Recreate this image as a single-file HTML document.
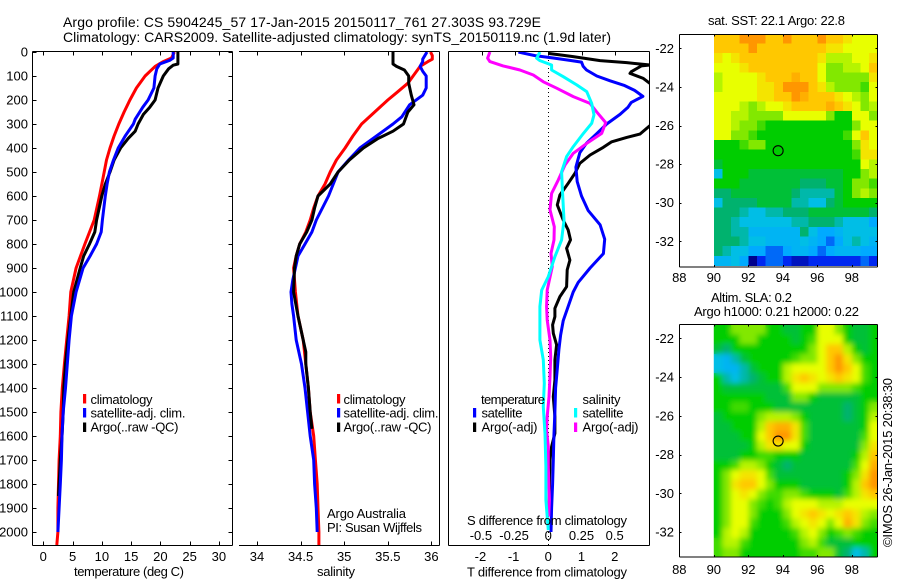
<!DOCTYPE html>
<html>
<head>
<meta charset="utf-8">
<title>Argo profile</title>
<style>
html,body{margin:0;padding:0;background:#fff}
svg{display:block}
text{font-family:"Liberation Sans",sans-serif;font-size:13px;fill:#000}
</style>
</head>
<body>
<svg id="chart" xmlns="http://www.w3.org/2000/svg" width="900" height="580" viewBox="0 0 900 580">
<defs>
<clipPath id="clipT"><rect x="33" y="52" width="199" height="493"/></clipPath>
<clipPath id="clipS"><rect x="240" y="52" width="199" height="493"/></clipPath>
<clipPath id="clipD"><rect x="449" y="52" width="200" height="493"/></clipPath>
<clipPath id="clipM1"><rect x="713.5" y="34" width="164" height="233"/></clipPath>
<clipPath id="clipM2"><rect x="713.5" y="324" width="164" height="233"/></clipPath>
<filter id="soft" x="-5%" y="-5%" width="110%" height="110%"><feGaussianBlur stdDeviation="2.6"/></filter>
</defs>
<rect width="900" height="580" fill="#fff"/>
<text x="63" y="27" style="font-size:14px" textLength="478">Argo profile: CS 5904245_57 17-Jan-2015 20150117_761 27.303S 93.729E</text>
<text x="63" y="42" style="font-size:14px" textLength="548">Climatology: CARS2009. Satellite-adjusted climatology: synTS_20150119.nc (1.9d later)</text>

<g id="mapSst" clip-path="url(#clipM1)"></g>
<g id="mapSla" clip-path="url(#clipM2)"></g>
<g id="axes"></g>

<line x1="548.5" x2="548.5" y1="52" y2="545" stroke="#000" stroke-width="1" stroke-dasharray="1 3"/>
<g id="lines"></g>

<g>
<rect x="83" y="394" width="3.2" height="9.5" fill="#f00"/>
<text x="90.5" y="404" textLength="62">climatology</text>
<rect x="83" y="408" width="3.2" height="9.5" fill="#00f"/>
<text x="90.5" y="417.5" textLength="95">satellite-adj. clim.</text>
<rect x="83" y="422.5" width="3.2" height="9.5" fill="#000"/>
<text x="90.5" y="431.5" textLength="88">Argo(..raw -QC)</text>
</g>
<g>
<rect x="337" y="394" width="3.2" height="9.5" fill="#f00"/>
<text x="343.5" y="404" textLength="62">climatology</text>
<rect x="337" y="408" width="3.2" height="9.5" fill="#00f"/>
<text x="343.5" y="417.5" textLength="95">satellite-adj. clim.</text>
<rect x="337" y="422.5" width="3.2" height="9.5" fill="#000"/>
<text x="343.5" y="431.5" textLength="88">Argo(..raw -QC)</text>
</g>
<text x="327" y="518" textLength="79">Argo Australia</text>
<text x="327" y="532" textLength="95">PI: Susan Wijffels</text>

<g>
<text x="481" y="404" textLength="64">temperature</text>
<rect x="473" y="408" width="3.2" height="9.5" fill="#00f"/>
<text x="481.5" y="417.5" textLength="41">satellite</text>
<rect x="473" y="422.5" width="3.2" height="9.5" fill="#000"/>
<text x="481.5" y="431.5" textLength="56">Argo(-adj)</text>
<text x="582.5" y="404" textLength="38">salinity</text>
<rect x="574" y="408" width="3.2" height="9.5" fill="#0ff"/>
<text x="582.5" y="417.5" textLength="41">satellite</text>
<rect x="574" y="422.5" width="3.2" height="9.5" fill="#f0f"/>
<text x="582.5" y="431.5" textLength="56">Argo(-adj)</text>
</g>

<text x="467" y="525" textLength="160">S difference from climatology</text>
<text x="74" y="576" textLength="110">temperature (deg C)</text>
<text x="317" y="576" textLength="38">salinity</text>
<text x="467" y="576.5" textLength="160">T difference from climatology</text>

<text x="708" y="25" textLength="137">sat. SST: 22.1 Argo: 22.8</text>
<text x="711" y="302" textLength="81">Altim. SLA: 0.2</text>
<text x="694" y="316" textLength="165">Argo h1000: 0.21 h2000: 0.22</text>
<text transform="translate(892 547) rotate(-90)" x="0" y="0" textLength="169">©IMOS 26-Jan-2015 20:38:30</text>

<script>
/* ---------- tick labels ---------- */
const depthTicks = [0,100,200,300,400,500,600,700,800,900,1000,1100,1200,1300,1400,1500,1600,1700,1800,1900,2000];
const tempTicks = [0,5,10,15,20,25,30];
const salTicks = [34,34.5,35,35.5,36];
const tDiffTicks = [-2,-1,0,1,2];
const sDiffTicks = [-0.5,-0.25,0,0.25,0.5];
const lonTicks = [88,90,92,94,96,98];
const latTicks = [-22,-24,-26,-28,-30,-32];

/* ---------- temperature panel ---------- */
const tempClimDepth = [0,25,40,60,100,150,200,250,300,350,400,450,500,600,700,800,900,1000,1100,1200,1300,1400,1500,1600,1700,1800,1900,2000,2054];
const tempClim = [22.4,21.9,20.5,19.1,17.4,15.9,14.8,13.8,12.9,12.1,11.4,10.8,10.4,9.6,8.7,7.1,5.6,4.7,4.4,4.0,3.6,3.25,3.0,2.9,2.7,2.6,2.5,2.5,2.3];
const tempArgoDepth = [0,50,55,70,100,150,200,230,260,300,330,360,400,450,500,550,600,700,750,800,850,900,1000,1100,1200,1300,1400,1500,1600,1700,1800,1850];
const tempArgo = [23,23,22.2,21.4,20.5,19.6,19.1,18.2,17.1,16.2,15.7,14.5,13.2,12.1,11.4,10.6,10,9.1,8.8,7.9,6.9,6.3,5.2,4.7,4.2,3.8,3.5,3.4,3.2,2.9,2.7,2.6];
const tempSatDepth = [0,25,35,50,70,100,150,200,230,280,300,350,400,450,500,550,600,700,750,800,850,900,950,1000,1100,1200,1300,1400,1500,1600,1700,1800,1900,2000];
const tempSat = [22.2,22.2,21.6,19.9,19.4,19.1,18.9,17.9,17,15.7,15.4,14,12.8,12,11.3,10.9,10.6,10.1,9.9,9.1,8,6.8,6.2,5.6,4.8,4.4,4.1,3.8,3.4,3.2,3.1,2.9,2.7,2.5];

/* ---------- salinity panel ---------- */
const salClimDepth = [0,15,30,40,60,100,130,170,200,250,300,350,400,450,500,550,600,650,700,750,800,850,900,1000,1100,1200,1300,1400,1500,1600,1700,1800,1900,2000,2054];
const salClim = [35.99,36.01,36.01,35.96,35.87,35.79,35.73,35.6,35.5,35.35,35.2,35.1,35.01,34.91,34.84,34.78,34.7,34.65,34.61,34.56,34.49,34.45,34.42,34.44,34.47,34.53,34.56,34.59,34.61,34.65,34.67,34.69,34.7,34.71,34.71];
const salArgoDepth = [0,50,60,75,100,130,180,220,250,300,330,360,400,450,500,550,600,650,700,750,800,850,900,1000,1100,1200,1250,1300,1400,1500,1570];
const salArgo = [35.56,35.56,35.6,35.69,35.74,35.74,35.77,35.8,35.73,35.68,35.56,35.39,35.22,35.06,34.93,34.84,34.7,34.66,34.63,34.57,34.49,34.45,34.43,34.42,34.47,34.53,34.56,34.56,34.59,34.61,34.63];
const salSatDepth = [0,30,40,60,80,100,150,180,220,270,300,350,400,450,500,600,700,750,800,850,900,950,1000,1050,1100,1200,1300,1400,1500,1600,1700,1800,1900,2000];
const salSat = [35.95,35.9,35.9,35.87,35.9,35.94,35.94,35.9,35.75,35.66,35.56,35.37,35.18,35.05,34.93,34.82,34.68,34.63,34.55,34.47,34.44,34.41,34.39,34.4,34.42,34.45,34.51,34.55,34.58,34.61,34.65,34.66,34.68,34.69];

/* ---------- difference panel ---------- */
const dTSatDepth = [0,5,15,25,35,42,60,75,100,120,140,160,185,210,230,260,300,340,380,420,480,540,600,660,720,780,840,900,960,1000,1060,1120,1180,1240,1320,1400,1500,1600,1700,1800,1900,2000];
const dTSat = [-0.9,-0.75,-0.4,0.15,0.65,1,1.05,1.15,1.46,1.86,2.3,2.6,2.85,2.5,2.4,2.16,1.76,1.46,1.15,0.95,0.83,0.87,1,1.2,1.56,1.7,1.66,1.26,0.9,0.75,0.6,0.45,0.37,0.32,0.27,0.22,0.2,0.17,0.15,0.13,0.1,0.08];
const dTArgoDepth = [6,12,19,36,44,54,58,82,89,110,130,200,308,342,356,374,397,429,464,506,547,596,637,700,742,783,818,867,908,978,1019,1068,1103,1137,1172,1220,1283,1367,1436,1519,1589,1644,1700,1867,1900];
const dTArgo = [0,0.35,0.75,1.56,2.36,3.05,2.8,2.5,2.46,2.86,3.05,4,3.05,2.76,2.36,1.91,1.66,1.26,0.95,0.8,0.6,0.35,0.27,0.45,0.6,0.67,0.55,0.65,0.57,0.55,0.35,0.2,0.2,0.13,0.15,0.25,0.2,0.2,0.15,0.2,0.2,0.1,0.05,0.03,0.03];
const dSSatDepth = [0,26,36,54,75,103,137,165,214,262,297,339,394,436,499,575,700,783,853,936,992,1061,1200,1283,1380,1478,1589,1728,1867,1992];
const dSSat = [-0.063,-0.088,-0.063,0.025,0.025,0.113,0.214,0.289,0.327,0.344,0.327,0.264,0.188,0.138,0.1,0.106,0.118,0.1,0.05,0,-0.05,-0.063,-0.063,-0.038,-0.03,-0.038,-0.025,-0.018,-0.018,0];
const dSArgoDepth = [0,26,40,58,75,96,124,151,186,214,249,294,339,381,422,471,533,589,658,728,783,839,894,992,1061,1117,1200,1269,1353,1436,1519,1575,1644,1728,1867,1936];
const dSArgo = [-0.44,-0.457,-0.44,-0.34,-0.214,-0.113,-0.038,0.063,0.188,0.314,0.364,0.432,0.402,0.289,0.188,0.126,0.075,0.025,0.013,0.045,0.043,0.02,0.03,-0.008,-0.013,-0.008,0.013,0.018,0.013,0.005,-0.008,-0.013,0,0,0.008,0.003];

/* ---------- map cells: colour level per 0.5 degree cell, north to south ---------- */
const sstRows = [
[8,8,8,9,9,9,8,8,9,8,8,8,9,8,8,7.5,7,7,7],
[8,8,8,8,9,8,8,8,8,8,8,8,8,7.5,7.5,7,7,7,7],
[7.5,7,7.5,8,8,8,8,8,8,8,8,8,7.5,6.5,6.5,6.5,7,7,7.5],
[7,7,7,7.5,8,8,8,8,8,8,8,8,7,6,6,6.5,6.5,7,8],
[6.5,7,7,7,7,7.5,8,8,8,8.5,8,8,7,6,6,6,6,6,7.5],
[6.5,7,7,7,7,7.5,7.5,8,9,9,9,8,7.5,6.5,6,6,6,5.5,7],
[7,7,7,7,7,7.5,7.5,8,8,9,8.5,8,8,8,7.5,7,6.5,6,7],
[7,7,7,6.5,6,6.5,7,7,7.5,8,8,8,8,8.5,8,7.5,7,6,6.5],
[7,7,6.5,6.5,6,6,6,6,7,7,7,7,7,6,5,5,7,7,6],
[7,7,6.5,6,6,5.5,5,5,5,5,5,5,5,5,5,5,6,7,7],
[7,7,6,6,5.5,5,5,5,5,5,5,5,5,5,5,5.5,7,8,7],
[5,5,5,5.5,6,6,5,5,5,5,5,5,5,5,5,5,6,7.5,7],
[5,5,5,5,5,5,5,5,5,5,5,5,5,5,5,5,5.5,7.5,7.5],
[4.5,5,5,5,5,5,5,5,5,5,5,5,5,5,5,5,5,7,6.5],
[3,5,5,5,4.5,4.5,4.5,4.5,4.5,4.5,4.5,4.5,4.5,4.5,4.5,5,5,6,6.5],
[5,5,5,4.5,4.5,4.5,4.5,4.5,4.5,4.5,4,4,4,4.5,4.5,5,6,6,5.5],
[4,4,4.5,4.5,4.5,4.5,4.5,4.5,4.5,4,3.5,3.5,3.5,3.5,4.5,5,6,6.5,6],
[3,4,4,4,4,4.5,4.5,4.5,4.5,3.5,3.5,3,3,4,4.5,5,5,5,5],
[4,4,4,3.5,3,3,3.5,3.5,4,4,4,4.5,4.5,4.5,4.5,4.5,4.5,4.5,4],
[4,4,3.5,3,3,3,3,3,3,3.5,3.5,4,4,4,3.5,3,3,3,2],
[4,4,3.5,3.5,2.5,2.5,2.5,2.5,2.5,2.5,4,3,2,2,2.5,3,3,3,3],
[4,4,4,3.5,3,3,2.5,2.5,2.5,2.5,3,2.5,2,1.5,2,3,3.5,3,2.5],
[4,3.5,3,3,2,2,1.5,1.5,2,2.5,2.5,2,1.5,2,2.5,2.5,2.5,2,2],
[2.5,2.5,3,2,0,1,1.5,1.5,1,0.5,0.5,1,1,1,1,1,1,1.5,1]
];
const slaRows = [
[5,5,6,6,6,6,5,5,4.5,4.5,5,5,7,7,6,5,4.5,4.5,5],
[5,5,5,6,6,5,5,5,5,4.5,5,5.5,7,7,7,5,4.5,4.5,5],
[4.5,4,5,5,5,5,5,5,5,5,5,6,7,8,8,6.5,5,4.5,5],
[3,2.5,3.5,4.5,5,5,5,5,5,5.5,6,6,7,8,9,7.5,6,5,5],
[3,2.5,2.5,3.5,4.5,5,5,5,6.5,7,7,7,7,8,9,8,7,5.5,5],
[5,3.5,3,3.5,4,4.5,5,5,6.5,7.5,8,7.5,7,7.5,8,7.5,7,5.5,5],
[5,4.5,4.5,4.5,4.5,4.5,4.5,4.5,5.5,7,7,7,6,6,6,6,5.5,5,5],
[5,5,5,5,5,5,4.5,4.5,4.5,6,6,5,4.5,4.5,4.5,4.5,4.5,5,5],
[5,5,5.5,5.5,5,5,5,4.5,4.5,4.5,4.5,4.5,4.5,4.5,4.5,4,4.5,5,6],
[4.5,5,5,5,5,6,6.5,6.5,6.5,6,5,4.5,4.5,4.5,4.5,4,4.5,5,6.5],
[4.5,4.5,5,5,5,6.5,8,8.5,8.5,7.5,5.5,4.5,4.5,4.5,4.5,4.5,4.5,5,7],
[4.5,4.5,4.5,5,5,7,8,9,9,7.5,5.5,4.5,4.5,4.5,4.5,4.5,4.5,5.5,7],
[4.5,4.5,4.5,4.5,5,6.5,7.5,7.5,7,7,5,4.5,4.5,4.5,4.5,4.5,4.5,6,7.5],
[4.5,4.5,4.5,5,5,5.5,5.5,5,5,5,4.5,4.5,4.5,4.5,4.5,4.5,5,6.5,8],
[5,5,5.5,6.5,6.5,6,5,4.5,4,4.5,4.5,4.5,4.5,4.5,4.5,4.5,5.5,7,8.5],
[5,6,7,7.5,7.5,7,5.5,4.5,4.5,4.5,4.5,4.5,4.5,4.5,4.5,5,6,7.5,9],
[5,6,7.5,8,8,7,6,5,5,5,4.5,4.5,4.5,4.5,4.5,5,6.5,8,9],
[5,6,7,7.5,7,6,5.5,5.5,6,6,5.5,5,5,5,4.5,5.5,6.5,7.5,8],
[5,6,7,7,6,5.5,5,5.5,6.5,7,7,7,6.5,6.5,6.5,7,7,7,7],
[5,6,7,7,6,5,5,5,6,7,7.5,8,7.5,7,7.5,8,7.5,6.5,6],
[5,6,7,7,5.5,5,5,5,5.5,6.5,7,7.5,7,6,7,8.5,7.5,6,5.5],
[5,6.5,7,6.5,5,5,5,5,5,5.5,6.5,7,6,5,5.5,6,5.5,5,5],
[5.5,6.5,6.5,5.5,5,5,5,5,5,5,6,6.5,5.5,4.5,4.5,4.5,5,5,5],
[5.5,6,6,5,5,5,5,5,5,5,5.5,5.5,6,6,4.5,4,3,3.5,5]
];
const floatLon = 93.729;
const floatLat = -27.303;

/* ---------- axis functions ---------- */
const NS = 'http://www.w3.org/2000/svg';
const yOf = d => 52 + 0.24 * d;
const xT = v => 43.3 + 5.853 * v;
const xS = v => 257 + 87.2 * (v - 34);
const xDT = v => 548.3 + 33.2 * v;
const xDS = v => 548.3 + 132.8 * v;
const xLon = v => 679.3 + 17.25 * (v - 88);
const yLat1 = v => 48.4 + 19.29 * (-22 - v);
const yLat2 = v => 338.3 + 19.37 * (-22 - v);

function make(tag, attrs, parent) {
  const el = document.createElementNS(NS, tag);
  for (const k in attrs) el.setAttribute(k, attrs[k]);
  parent.appendChild(el);
  return el;
}
const axes = document.getElementById('axes');
const linesG = document.getElementById('lines');

function seg(x1, y1, x2, y2, name) {
  const el = make('line', {x1: x1, y1: y1, x2: x2, y2: y2, stroke: '#000', 'stroke-width': 1, 'shape-rendering': 'crispEdges'}, axes);
  
  
}
function label(x, y, str, anchor, name) {
  const el = make('text', {x: x, y: y, 'text-anchor': anchor}, axes);
  el.textContent = str;
  
  
}

/* frames */
seg(32.5, 51.5, 232.5, 51.5, 'temperature-axis-top');
seg(32.5, 545.5, 232.5, 545.5, 'temperature-axis-bottom');
seg(32.5, 51.5, 32.5, 545.5, 'temperature-axis-left');
seg(232.5, 51.5, 232.5, 545.5, 'temperature-axis-right');
seg(239, 51.5, 439.5, 51.5, 'salinity-axis-top');
seg(239, 545.5, 439.5, 545.5, 'salinity-axis-bottom');
seg(439.5, 51.5, 439.5, 545.5, 'salinity-axis-right');
seg(448.5, 51.5, 649.5, 51.5, 'difference-axis-top');
seg(448.5, 545.5, 649.5, 545.5, 'difference-axis-bottom');
seg(448.5, 51.5, 448.5, 545.5, 'difference-axis-left');
seg(649.5, 51.5, 649.5, 545.5, 'difference-axis-right');

/* depth ticks */
depthTicks.forEach(d => {
  const y = Math.round(yOf(d)) + 0.5;
  seg(32.5, y, 36.5, y, 'depth-tick');
  seg(228.5, y, 232.5, y, 'depth-tick');
  label(28, yOf(d) + 4.5, String(d), 'end', 'depth-tick-label');
});
/* temperature ticks */
tempTicks.forEach(v => {
  const x = Math.round(xT(v)) + 0.5;
  seg(x, 51.5, x, 55.5, 'temperature-tick');
  seg(x, 541.5, x, 545.5, 'temperature-tick');
  label(xT(v), 561, String(v), 'middle', 'temperature-tick-label');
});
/* salinity ticks */
salTicks.forEach(v => {
  const x = Math.round(xS(v)) + 0.5;
  seg(x, 51.5, x, 55.5, 'salinity-tick');
  seg(x, 541.5, x, 545.5, 'salinity-tick');
  label(xS(v), 561, String(v), 'middle', 'salinity-tick-label');
});
/* difference ticks */
tDiffTicks.forEach(v => {
  const x = Math.round(xDT(v)) + 0.5;
  seg(x, 51.5, x, 55.5, 't-difference-tick');
  label(xDT(v) - (v < 0 ? 1.5 : 0), 561, String(v), 'middle', 't-difference-tick-label');
});
sDiffTicks.forEach(v => {
  label(xDS(v) - (v < 0 ? 1 : 0), 540, String(v), 'middle', 's-difference-tick-label');
});

/* profile lines */
function drawLine(depths, vals, xf, color, clip, name) {
  const pts = depths.map((d, i) => xf(vals[i]).toFixed(1) + ',' + yOf(d).toFixed(1)).join(' ');
  const el = make('polyline', {points: pts, fill: 'none', stroke: color, 'stroke-width': 3, 'stroke-linejoin': 'round', 'clip-path': 'url(#' + clip + ')'}, linesG);
  
  
}
drawLine(tempClimDepth, tempClim, xT, '#f00', 'clipT', 'temperature-climatology-line');
drawLine(tempArgoDepth, tempArgo, xT, '#000', 'clipT', 'temperature-argo-line');
drawLine(tempSatDepth, tempSat, xT, '#00f', 'clipT', 'temperature-satellite-line');
drawLine(salClimDepth, salClim, xS, '#f00', 'clipS', 'salinity-climatology-line');
drawLine(salSatDepth, salSat, xS, '#00f', 'clipS', 'salinity-satellite-line');
drawLine(salArgoDepth, salArgo, xS, '#000', 'clipS', 'salinity-argo-line');
drawLine(dTArgoDepth, dTArgo, xDT, '#000', 'clipD', 't-difference-argo-line');
drawLine(dTSatDepth, dTSat, xDT, '#00f', 'clipD', 't-difference-satellite-line');
drawLine(dSArgoDepth, dSArgo, xDS, '#f0f', 'clipD', 's-difference-argo-line');
drawLine(dSSatDepth, dSSat, xDS, '#0ff', 'clipD', 's-difference-satellite-line');

/* colour scale */
const scaleLevels = [
  [0,0,140],[0,40,240],[0,170,255],[0,190,230],[0,178,110],
  [0,205,0],[130,232,0],[232,255,0],[255,200,0],[255,150,0]
];
function colorOf(v) {
  const i = Math.min(8, Math.floor(v));
  const f = v - i;
  const a = scaleLevels[i], b = scaleLevels[i + 1];
  return 'rgb(' + a.map((c, k) => Math.round(c + (b[k] - c) * f)).join(',') + ')';
}
function drawMap(parent, rows, latTop, yLat, name) {
  rows.forEach((row, r) => {
    row.forEach((v, c) => {
      const x0 = xLon(90 + 0.5 * c), x1 = xLon(90 + 0.5 * (c + 1));
      const y0 = yLat(latTop - 0.5 * r), y1 = yLat(latTop - 0.5 * (r + 1));
      const el = make('rect', {x: x0, y: y0, width: x1 - x0 + 0.4, height: y1 - y0 + 0.8, fill: colorOf(v), 'shape-rendering': 'crispEdges'}, parent);
      
      
    });
  });
}
const sstG = document.getElementById('mapSst');
const slaG = document.getElementById('mapSla');
drawMap(sstG, sstRows, -21.25, yLat1, 'sst-cell');
drawMap(slaG, slaRows, -21.3, yLat2, 'sla-cell');
const slaSoft = make('g', {filter: 'url(#soft)'}, slaG);


drawMap(slaSoft, slaRows, -21.3, yLat2, 'sla-smoothed-cell');

/* map frames, ticks, marker */
function drawMapAxes(top, bottom, yLat, labelY, name) {
  seg(679.5, top + 0.5, 877.5, top + 0.5, name + '-axis-top');
  seg(679.5, bottom + 0.5, 877.5, bottom + 0.5, name + '-axis-bottom');
  seg(679.5, top + 0.5, 679.5, bottom + 0.5, name + '-axis-left');
  seg(877.5, top + 0.5, 877.5, bottom + 0.5, name + '-axis-right');
  lonTicks.forEach(v => {
    const x = Math.round(xLon(v)) + 0.5;
    seg(x, top + 0.5, x, top + 2.5, name + '-lon-tick');
    seg(x, bottom - 1.5, x, bottom + 0.5, name + '-lon-tick');
    label(xLon(v), labelY, String(v), 'middle', name + '-lon-label');
  });
  latTicks.forEach(v => {
    const y = Math.round(yLat(v)) + 0.5;
    seg(679.5, y, 681.5, y, name + '-lat-tick');
    seg(875.5, y, 877.5, y, name + '-lat-tick');
    label(674, yLat(v) + 4.5, String(v), 'end', name + '-lat-label');
  });
  const c = make('circle', {cx: xLon(floatLon), cy: yLat(floatLat), r: 5, fill: 'none', stroke: '#000', 'stroke-width': 1.1}, axes);
  
  
}
drawMapAxes(34, 266.5, yLat1, 282, 'sst-map');
drawMapAxes(324, 556.5, yLat2, 574, 'sla-map');
</script>
</svg>
</body>
</html>
